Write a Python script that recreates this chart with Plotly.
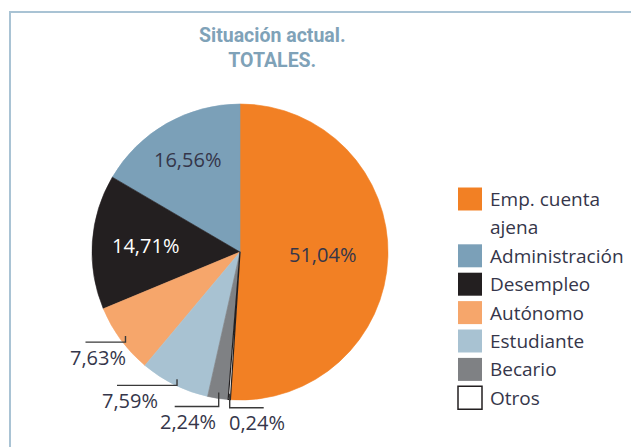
import math
import plotly.graph_objects as go

# ---------------- data ----------------
labels = ["Emp. cuenta ajena", "Administración", "Desempleo", "Autónomo",
          "Estudiante", "Becario", "Otros"]
legend_labels = ["Emp. cuenta<br>ajena", "Administración", "Desempleo", "Autónomo",
                 "Estudiante", "Becario", "Otros"]
values = [51.04, 16.56, 14.71, 7.63, 7.59, 2.24, 0.24]
colors = ["#F28024", "#7BA0B8", "#231F20", "#F6A66B", "#A8C2D2", "#7F8184", "#FFFFFF"]
title_text = "Situación actual.<br>TOTALES."

# ---------------- styling / layout ----------------
PAGE_W, PAGE_H = 639, 447
OFF = 8                      # default body margin of the html page
W, H = PAGE_W - OFF, PAGE_H - OFF
CX, CY, R = 240, 252, 148    # page pixel coordinates of the pie
DARK = "#35364A"
FONT = "Open Sans, Lato, sans-serif"
label_colors = [DARK, DARK, "#FFFFFF", DARK, DARK, DARK, DARK]
inside = [True, True, True, False, False, False, False]
inside_rfrac = [0.56, 0.72, 0.64, None, None, None, None]
# leader geometry for outside labels: (vertical drop px, horizontal run px)
leader = [None, None, None, (6, -40), (6, -60), (14, -44), (14, 34)]


def to_paper(x, y):
    return (x - OFF) / W, 1 - (y - OFF) / H


def fmt(v):
    return f"{v:.2f}".replace(".", ",") + "%"


total = sum(values)
mids = [values[0] / 2 / total * 360]
acc = 0.0
for v in values[1:]:
    mids.append((-(acc + v / 2) / total * 360) % 360)
    acc += v

line_colors = list(colors[:-1]) + ["#231F20"]
line_widths = [0.6] * (len(values) - 1) + [1.2]

d0 = to_paper(CX - R, CY + R)
d1 = to_paper(CX + R, CY - R)
fig = go.Figure(go.Pie(
    labels=labels, values=values, sort=False,
    direction="counterclockwise", rotation=0,
    marker=dict(colors=colors, line=dict(color=line_colors, width=line_widths)),
    textinfo="none", hoverinfo="label+percent", showlegend=False,
    domain=dict(x=[d0[0], d1[0]], y=[d0[1], d1[1]]),
))

annotations = []
shapes = []

# frame
f0 = to_paper(10, 12)
shapes.append(dict(type="rect", xref="paper", yref="paper",
                   x0=f0[0], x1=1.05, y0=-0.05, y1=f0[1],
                   line=dict(color="#A9C3D4", width=2), fillcolor="rgba(0,0,0,0)"))

# title
tx, ty = to_paper(272, 48)
annotations.append(dict(xref="paper", yref="paper", x=tx, y=ty, xanchor="center",
                        yanchor="middle", showarrow=False, text="<b>" + title_text + "</b>",
                        font=dict(family="Roboto, sans-serif", size=19.5, color="#7FA2B8")))

# slice labels
for i, v in enumerate(values):
    a = math.radians(mids[i])
    if inside[i]:
        r = inside_rfrac[i] * R
        x, y = CX + r * math.sin(a), CY - r * math.cos(a)
        px, py = to_paper(x, y)
        annotations.append(dict(xref="paper", yref="paper", x=px, y=py, showarrow=False,
                                text=fmt(v), xanchor="center", yanchor="middle",
                                font=dict(family=FONT, size=20, color=label_colors[i])))
    else:
        drop, run = leader[i]
        r = 0.96 * R
        x0, y0 = CX + r * math.sin(a), CY - r * math.cos(a)
        x1, y1 = x0, y0 + drop
        x2, y2 = x0 + run, y1
        p0, p1, p2 = to_paper(x0, y0), to_paper(x1, y1), to_paper(x2, y2)
        shapes.append(dict(type="path", xref="paper", yref="paper",
                           path=f"M {p0[0]},{p0[1]} L {p1[0]},{p1[1]} L {p2[0]},{p2[1]}",
                           line=dict(color="#3A3A3A", width=1.4)))
        lx = x2 + 13 if run < 0 else x2 - 7
        lp = to_paper(lx, y2 + 15)
        annotations.append(dict(xref="paper", yref="paper", x=lp[0], y=lp[1], showarrow=False,
                                text=fmt(v), xanchor="center", yanchor="middle",
                                font=dict(family=FONT, size=20, color=label_colors[i])))

# manual legend
row0, row_h = 199, 28.4
sw_x0, sw_w, sw_h = 458, 24, 23
text_x = 488
row = 0
for i, lab in enumerate(legend_labels):
    yc = row0 + row * row_h
    a0 = to_paper(sw_x0, yc - sw_h / 2)
    a1 = to_paper(sw_x0 + sw_w, yc + sw_h / 2)
    white = colors[i] == "#FFFFFF"
    shapes.append(dict(type="rect", xref="paper", yref="paper",
                       x0=a0[0], x1=a1[0], y0=a1[1], y1=a0[1],
                       fillcolor=colors[i],
                       line=dict(color="#231F20" if white else colors[i],
                                 width=1.5 if white else 0)))
    for line in lab.split("<br>"):
        yc = row0 + row * row_h
        p = to_paper(text_x, yc)
        annotations.append(dict(xref="paper", yref="paper", x=p[0], y=p[1], showarrow=False,
                                text=line, xanchor="left", yanchor="middle",
                                font=dict(family=FONT, size=19, color=DARK)))
        row += 1

fig.update_layout(
    width=W, height=H, margin=dict(l=0, r=0, t=0, b=0, pad=0),
    paper_bgcolor="white", plot_bgcolor="white",
    separators=",.", annotations=annotations, shapes=shapes,
)

fig.write_html("out.html")
